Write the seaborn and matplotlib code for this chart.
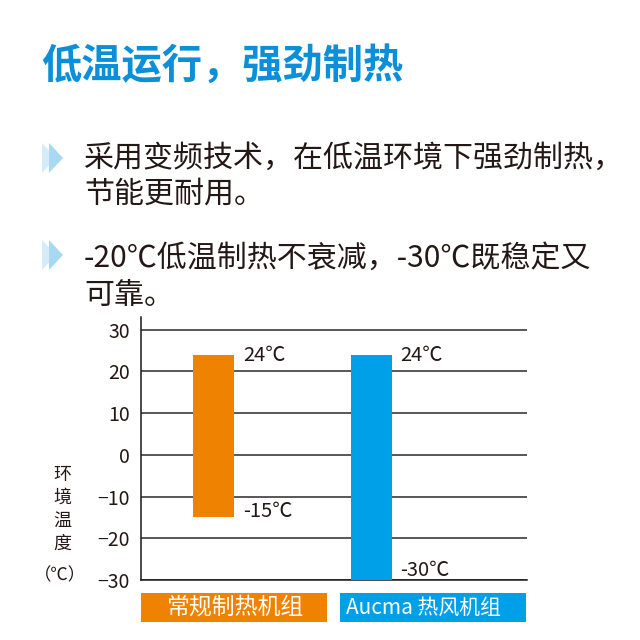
import matplotlib.pyplot as plt
import seaborn as sns
import pandas as pd
from matplotlib.patches import Polygon, Rectangle

# Text content
title = "低温运行，强劲制热"
body_lines = ["采用变频技术，在低温环境下强劲制热，",
              "节能更耐用。",
              "-20℃低温制热不衰减，-30℃既稳定又",
              "可靠。"]
ylabel_chars = ["环", "境", "温", "度"]
ylabel_unit = "（℃）"

# Chart data
categories = ["常规制热机组", "Aucma 热风机组"]
highs = [24, 24]
lows = [-15, -30]
yticks = [30, 20, 10, 0, -10, -20, -30]

bar_colors = ["#ef8200", "#00a0e9"]
text_color = "#231815"
title_color = "#0b8fd8"

df = pd.DataFrame({"机组": categories,
                   "span": [h - l for h, l in zip(highs, lows)]})

sns.set_theme(style="white")
plt.rcParams["font.family"] = ["Noto Sans CJK SC", "DejaVu Sans"]

fig = plt.figure(figsize=(6.4, 6.4), dpi=100)


def fx(px):
    return px / 640


def fy(py):
    return 1 - py / 640


# Header text
fig.text(fx(41), fy(66), title, fontsize=29, fontweight="heavy",
         color=title_color, ha="left", va="center")
for txt, y in zip(body_lines, [158, 194, 258, 295]):
    fig.text(fx(84), fy(y), txt, fontsize=21.6, color=text_color,
             ha="left", va="center")

# Bullet chevrons
for yc in [158, 255]:
    for x0, col in [(42, "#d4ebf9"), (49, "#a9d8f3")]:
        tri = Polygon([(fx(x0), fy(yc - 15)), (fx(x0), fy(yc + 15)),
                       (fx(x0 + 14), fy(yc))], closed=True,
                      transform=fig.transFigure, facecolor=col,
                      edgecolor="none")
        fig.patches.append(tri)

# Chart
ax = fig.add_axes([fx(141), fy(580), fx(527 - 141), (580 - 317) / 640])
sns.barplot(data=df, x="机组", y="span", bottom=lows, color=bar_colors[0],
            width=0.26, linewidth=0, zorder=3, ax=ax)
for p, c in zip(ax.patches, bar_colors):
    p.set_facecolor(c)
    p.set_edgecolor(c)

ax.set_xlim(-0.46, 1.99)
ax.set_ylim(-30, 33)
ax.set_yticks(yticks)
ax.set_xticks([])
ax.set_xlabel("")
ax.set_ylabel("")
ax.yaxis.grid(True, color="#2a2a2a", linewidth=1.1)
ax.set_axisbelow(True)
ax.tick_params(axis="y", length=0, pad=8, labelsize=14, labelcolor=text_color)
sns.despine(ax=ax)
for side in ["left", "bottom"]:
    ax.spines[side].set_color("#1a1a1a")
    ax.spines[side].set_linewidth(1.1)

# Value labels
for i, (h, l) in enumerate(zip(highs, lows)):
    ax.annotate(f"{h}℃", (i + 0.13, h), xytext=(6.5, -4.3),
                textcoords="offset points", ha="left", va="baseline",
                fontsize=14.5, color=text_color)
    ax.annotate(f"{l}℃", (i + 0.13, l), xytext=(6.5, 0 if l > -30 else 3),
                textcoords="offset points", ha="left", va="baseline",
                fontsize=14.5, color=text_color)

# Vertical y label
for ch, y in zip(ylabel_chars, [475, 498, 521, 544]):
    fig.text(fx(62), fy(y), ch, fontsize=13, color=text_color,
             ha="center", va="center")
fig.text(fx(60), fy(575), ylabel_unit, fontsize=12.5, color=text_color,
         ha="center", va="center")

# Legend boxes under the chart
for (x0, x1), xc, fs, name, col in zip([(141, 327), (340, 526)], [235, 423],
                                       [16.5, 15], categories, bar_colors):
    fig.patches.append(Rectangle((fx(x0), fy(622)), fx(x1 - x0), (622 - 593) / 640,
                                 transform=fig.transFigure, facecolor=col,
                                 edgecolor="none"))
    fig.text(fx(xc), fy(607.5), name, fontsize=fs, color="white",
             ha="center", va="center")

fig.savefig("out.png", dpi=100)
